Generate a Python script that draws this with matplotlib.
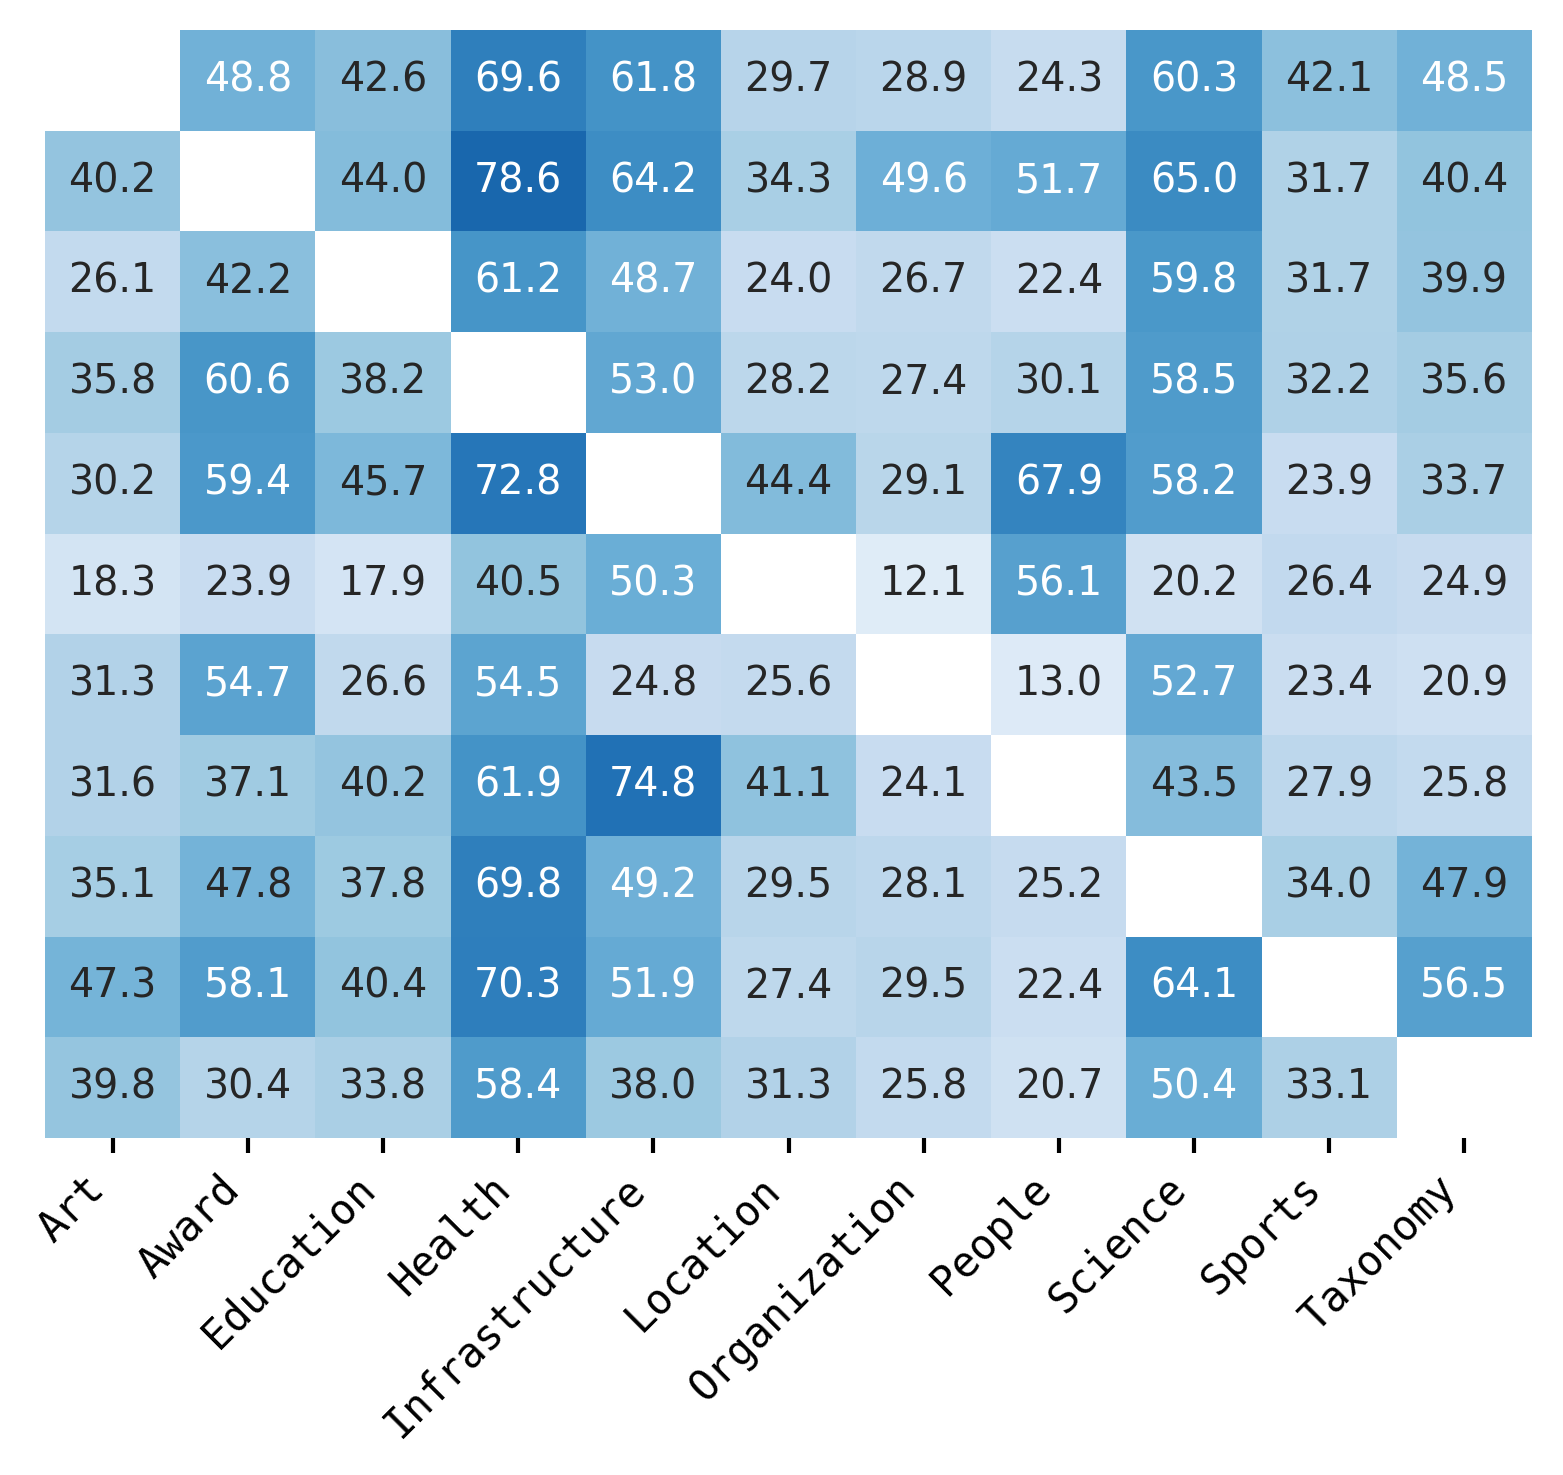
import numpy as np
import matplotlib
matplotlib.use("Agg")
import matplotlib.pyplot as plt
import seaborn as sns

categories = ["Art", "Award", "Education", "Health", "Infrastructure", "Location",
              "Organization", "People", "Science", "Sports", "Taxonomy"]
nan = np.nan
row_art = [nan, 48.8, 42.6, 69.6, 61.8, 29.7, 28.9, 24.3, 60.3, 42.1, 48.5]
row_award = [40.2, nan, 44.0, 78.6, 64.2, 34.3, 49.6, 51.7, 65.0, 31.7, 40.4]
row_education = [26.1, 42.2, nan, 61.2, 48.7, 24.0, 26.7, 22.4, 59.8, 31.7, 39.9]
row_health = [35.8, 60.6, 38.2, nan, 53.0, 28.2, 27.4, 30.1, 58.5, 32.2, 35.6]
row_infrastructure = [30.2, 59.4, 45.7, 72.8, nan, 44.4, 29.1, 67.9, 58.2, 23.9, 33.7]
row_location = [18.3, 23.9, 17.9, 40.5, 50.3, nan, 12.1, 56.1, 20.2, 26.4, 24.9]
row_organization = [31.3, 54.7, 26.6, 54.5, 24.8, 25.6, nan, 13.0, 52.7, 23.4, 20.9]
row_people = [31.6, 37.1, 40.2, 61.9, 74.8, 41.1, 24.1, nan, 43.5, 27.9, 25.8]
row_science = [35.1, 47.8, 37.8, 69.8, 49.2, 29.5, 28.1, 25.2, nan, 34.0, 47.9]
row_sports = [47.3, 58.1, 40.4, 70.3, 51.9, 27.4, 29.5, 22.4, 64.1, nan, 56.5]
row_taxonomy = [39.8, 30.4, 33.8, 58.4, 38.0, 31.3, 25.8, 20.7, 50.4, 33.1, nan]

data = np.array([row_art, row_award, row_education, row_health, row_infrastructure,
                 row_location, row_organization, row_people, row_science,
                 row_sports, row_taxonomy])
mask = np.isnan(data)

fig = plt.figure(figsize=(1563 / 300, 1475 / 300), dpi=300)
ax = fig.add_axes([45 / 1563, 1 - 1138 / 1475, (1532 - 45) / 1563, (1138 - 30) / 1475])
sns.heatmap(data, mask=mask, cmap="Blues", vmin=0, vmax=100, annot=True, fmt=".1f",
            annot_kws={"fontsize": 9.5}, cbar=False, ax=ax,
            xticklabels=categories, yticklabels=False)
ax.set_xticklabels(categories, rotation=45, ha="right", fontsize=10,
                   family="DejaVu Sans Mono")
ax.tick_params(axis="x", length=3.6, width=1.0)
ax.tick_params(axis="y", length=0)
fig.savefig("out.png", dpi=300)
